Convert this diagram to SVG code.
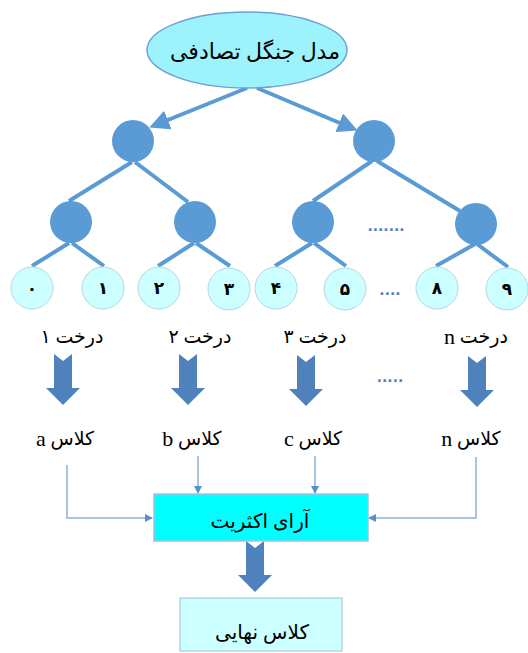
<svg xmlns="http://www.w3.org/2000/svg" width="528" height="653" viewBox="0 0 528 653">
  <style>
    .fa { font-family: "Liberation Serif", "DejaVu Sans", serif; fill: #000; direction: rtl; text-anchor: middle; dominant-baseline: central; }
    .lat { font-family: "Liberation Serif", serif; font-size: 22px; }
    .node { fill: #5B9BD5; }
    .leaf { fill: #CCFFFF; stroke: #B8D6E2; stroke-width: 1; }
    .digit { font-family: "DejaVu Sans", sans-serif; font-weight: bold; font-size: 17px; fill: #000; text-anchor: middle; dominant-baseline: central; }
    .edge { stroke: #5B9BD5; stroke-width: 4; fill: none; }
    .thin { stroke: #8FB2DC; stroke-width: 1.5; fill: none; }
    .block { fill: #4F81BD; }
    .dots { font-family: "DejaVu Sans", sans-serif; font-size: 14px; font-weight: bold; fill: #4F81BD; text-anchor: middle; }
  </style>
  <defs>
    <marker id="headBig" markerWidth="5" markerHeight="5" refX="4" refY="2.5" orient="auto" markerUnits="strokeWidth">
      <path d="M0,0 L5,2.5 L0,5 Z" fill="#5B9BD5"/>
    </marker>
    <marker id="headSmall" markerWidth="8" markerHeight="8" refX="7" refY="4" orient="auto" markerUnits="userSpaceOnUse">
      <path d="M0,0 L8,4 L0,8 Z" fill="#5B8FCC"/>
    </marker>
    <!-- notched down-arrow, centred on x=0, top at y=0 -->
    <path id="blockArrow" d="M-9,0 L0,7 L9,0 L9,34 L17,34 L0,51 L-17,34 L-9,34 Z"/>
  </defs>

  <!-- connectors -->
  <g id="connectors">
    <line class="edge" x1="247" y1="88" x2="153" y2="126" marker-end="url(#headBig)"/>
    <line class="edge" x1="257" y1="88" x2="354" y2="129" marker-end="url(#headBig)"/>

    <line class="edge" x1="132" y1="162" x2="69" y2="201"/>
    <line class="edge" x1="135" y1="162" x2="188" y2="202"/>
    <line class="edge" x1="372" y1="161" x2="313" y2="201"/>
    <line class="edge" x1="377" y1="161" x2="460" y2="211"/>

    <line class="edge" x1="69" y1="243" x2="32" y2="266"/>
    <line class="edge" x1="72" y1="243" x2="104" y2="266"/>
    <line class="edge" x1="194" y1="243" x2="158" y2="266"/>
    <line class="edge" x1="196" y1="243" x2="230" y2="266"/>
    <line class="edge" x1="312" y1="243" x2="275" y2="266"/>
    <line class="edge" x1="314" y1="243" x2="346" y2="266"/>
    <line class="edge" x1="475" y1="244" x2="436" y2="266"/>
    <line class="edge" x1="477" y1="244" x2="508" y2="267"/>

    <polyline class="thin" points="67,465 67,518 152,518" marker-end="url(#headSmall)"/>
    <line class="thin" x1="198" y1="456" x2="198" y2="493" marker-end="url(#headSmall)"/>
    <line class="thin" x1="315" y1="456" x2="315" y2="493" marker-end="url(#headSmall)"/>
    <polyline class="thin" points="476,457 476,518 369,518" marker-end="url(#headSmall)"/>

    <use href="#blockArrow" class="block" x="63" y="354"/>
    <use href="#blockArrow" class="block" x="188" y="354"/>
    <use href="#blockArrow" class="block" x="306" y="355"/>
    <use href="#blockArrow" class="block" x="477" y="356"/>
    <use href="#blockArrow" class="block" x="255" y="541"/>
  </g>

  <!-- root -->
  <g id="root">
    <ellipse cx="247" cy="50" rx="100" ry="38" fill="#9DF3FC" stroke="#6E9FD6" stroke-width="1.5"/>
    <text class="fa" x="255" y="51" font-size="22">مدل جنگل تصادفی</text>
  </g>

  <!-- internal nodes -->
  <g id="n1"><circle class="node" cx="133" cy="141" r="21"/></g>
  <g id="n2"><circle class="node" cx="374" cy="141" r="21"/></g>
  <g id="n3"><circle class="node" cx="71" cy="222" r="21"/></g>
  <g id="n4"><circle class="node" cx="195" cy="222" r="21"/></g>
  <g id="n5"><circle class="node" cx="313" cy="222" r="21"/></g>
  <g id="n6"><circle class="node" cx="476" cy="224" r="21"/></g>
  <text class="dots" x="386" y="231">.......</text>

  <!-- leaves -->
  <g id="leaf0"><circle class="leaf" cx="32" cy="288" r="21"/><text class="digit" x="32" y="288">٠</text></g>
  <g id="leaf1"><circle class="leaf" cx="103" cy="288" r="21"/><text class="digit" x="103" y="288">١</text></g>
  <g id="leaf2"><circle class="leaf" cx="159" cy="288" r="21"/><text class="digit" x="159" y="288">٢</text></g>
  <g id="leaf3"><circle class="leaf" cx="229" cy="289" r="21"/><text class="digit" x="229" y="289">٣</text></g>
  <g id="leaf4"><circle class="leaf" cx="276" cy="288" r="21"/><text class="digit" x="276" y="288">۴</text></g>
  <g id="leaf5"><circle class="leaf" cx="345" cy="289" r="21"/><text class="digit" x="345" y="289">۵</text></g>
  <text class="dots" x="390" y="295">....</text>
  <g id="leaf8"><circle class="leaf" cx="437" cy="288" r="21"/><text class="digit" x="437" y="288">٨</text></g>
  <g id="leaf9"><circle class="leaf" cx="507" cy="289" r="21"/><text class="digit" x="507" y="289">٩</text></g>

  <!-- tree labels -->
  <g id="tree1"><text class="fa" x="72" y="336" font-size="19">درخت ۱</text></g>
  <g id="tree2"><text class="fa" x="200" y="336" font-size="19">درخت ۲</text></g>
  <g id="tree3"><text class="fa" x="315" y="336" font-size="19">درخت ۳</text></g>
  <g id="treeN"><text class="fa" x="476" y="336" font-size="19">درخت <tspan class="lat">n</tspan></text></g>
  <text class="dots" x="390" y="382">.....</text>

  <!-- class labels -->
  <g id="classA"><text class="fa" x="65" y="438" font-size="19">کلاس <tspan class="lat">a</tspan></text></g>
  <g id="classB"><text class="fa" x="192" y="438" font-size="19">کلاس <tspan class="lat">b</tspan></text></g>
  <g id="classC"><text class="fa" x="313" y="438" font-size="19">کلاس <tspan class="lat">c</tspan></text></g>
  <g id="classN"><text class="fa" x="471" y="438" font-size="19">کلاس <tspan class="lat">n</tspan></text></g>

  <!-- voting -->
  <g id="vote">
    <rect x="154" y="494" width="214" height="47" fill="#00FFFF" stroke="#9CC3E6" stroke-width="1.5"/>
    <text class="fa" x="260" y="521" font-size="20">آرای اکثریت</text>
  </g>

  <!-- final class -->
  <g id="final">
    <rect x="180" y="598" width="162" height="53" fill="#CCFFFF" stroke="#A9CBDB" stroke-width="1.2"/>
    <text class="fa" x="262" y="632" font-size="20">کلاس نهایی</text>
  </g>
</svg>
